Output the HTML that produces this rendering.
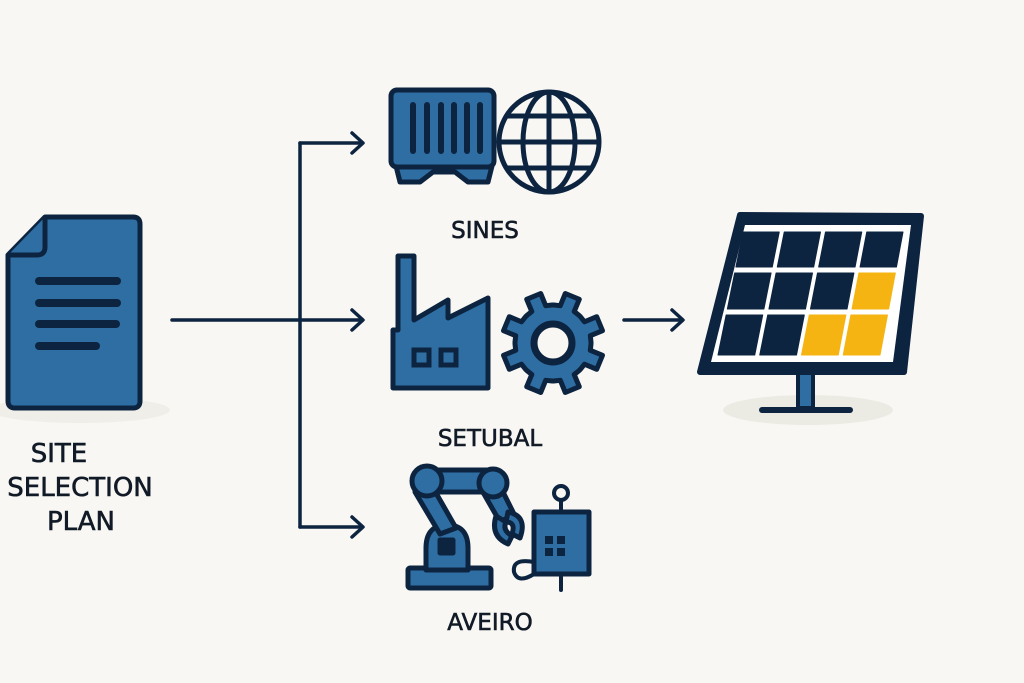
<!DOCTYPE html>
<html><head><meta charset="utf-8"><style>
html,body{margin:0;padding:0;background:#f8f7f3;}
svg{display:block}
text{font-family:"DejaVu Sans","Liberation Sans",sans-serif;fill:#111a26;stroke:#111a26;stroke-width:0.6px;}
</style></head><body>
<svg id="s" width="1024" height="683" viewBox="0 0 1024 683" xmlns="http://www.w3.org/2000/svg">
<rect width="1024" height="683" fill="#f8f7f3"/>
<ellipse cx="80" cy="410" rx="90" ry="13" fill="#efeee8"/>
<ellipse cx="808" cy="410" rx="85" ry="15" fill="#ecebe3"/>
<!-- document -->
<path d="M45,217 L133,217 Q140,217 140,224 L140,401 Q140,408 133,408 L15,408 Q8,408 8,401 L8,255 Z" fill="#2f6ea3" stroke="#0d2440" stroke-width="5" stroke-linejoin="round"/>
<path d="M45,217 L45,247 Q45,255 37,255 L8,255" fill="#2f6ea3" stroke="#0d2440" stroke-width="5" stroke-linejoin="round"/>
<g stroke="#0d2440" stroke-width="8" stroke-linecap="round">
<line x1="39" y1="281" x2="117" y2="281"/><line x1="39" y1="303" x2="117" y2="303"/>
<line x1="39" y1="324" x2="116" y2="324"/><line x1="39" y1="346" x2="96" y2="346"/>
</g>
<text x="59" y="462" font-size="26" text-anchor="middle">SITE</text>
<text x="80" y="496" font-size="26" text-anchor="middle">SELECTION</text>
<text x="81" y="530" font-size="26" text-anchor="middle">PLAN</text>
<!-- connectors -->
<g stroke="#0d2440" stroke-width="3.5" fill="none" stroke-linecap="round" stroke-linejoin="round">
<line x1="172" y1="320" x2="362" y2="320"/>
<line x1="300" y1="143" x2="300" y2="527"/>
<line x1="300" y1="143" x2="362" y2="143"/>
<line x1="300" y1="527" x2="362" y2="527"/>
<polyline points="352,133 363,143 352,153"/>
<polyline points="352,310 363,320 352,330"/>
<polyline points="352,517 363,527 352,537"/>
<line x1="624" y1="320" x2="682" y2="320"/>
<polyline points="672,310 683,320 672,330"/>
</g>
<!-- Sines: container -->
<path d="M396,166 L400,182 L420,182 L433,172 L455,172 L468,182 L488,182 L492,166 Z" fill="#2f6ea3" stroke="#0d2440" stroke-width="5" stroke-linejoin="round"/>
<rect x="391" y="90" width="103" height="77" rx="6" fill="#2f6ea3" stroke="#0d2440" stroke-width="5"/>
<g stroke="#0d2440" stroke-width="6" stroke-linecap="round">
<line x1="413" y1="105" x2="413" y2="151"/><line x1="427" y1="105" x2="427" y2="151"/>
<line x1="441" y1="105" x2="441" y2="151"/><line x1="454" y1="105" x2="454" y2="151"/>
<line x1="467" y1="105" x2="467" y2="151"/><line x1="480" y1="105" x2="480" y2="151"/>
</g>
<g stroke="#0d2440" stroke-width="5" fill="none">
<circle cx="549" cy="142" r="50"/>
<ellipse cx="549" cy="142" rx="26" ry="50"/>
<line x1="549" y1="92" x2="549" y2="192"/>
<line x1="499" y1="142" x2="599" y2="142"/>
<line x1="506" y1="116" x2="592" y2="116"/>
<line x1="506" y1="168" x2="592" y2="168"/>
</g>
<text x="485" y="238" font-size="23" text-anchor="middle">SINES</text>
<!-- factory -->
<path d="M393,388 L393,330 L398,330 L398,256 L414,256 L414,320 L448,300 L448,318 L488,298 L488,388 Z" fill="#2f6ea3" stroke="#0d2440" stroke-width="5" stroke-linejoin="round"/>
<rect x="414" y="350" width="15" height="15" fill="#2f6ea3" stroke="#0d2440" stroke-width="5"/>
<rect x="441" y="350" width="15" height="15" fill="#2f6ea3" stroke="#0d2440" stroke-width="5"/>
<g id="gear" transform="translate(553,343)"></g>
<text x="490" y="446" font-size="23" text-anchor="middle">SETUBAL</text>
<!-- robot -->
<g stroke="#0d2440" stroke-width="5" stroke-linejoin="round" fill="#2f6ea3">
<rect x="408" y="568" width="83" height="20" rx="2"/>
<path d="M426,570 L426,548 Q426,525 447,525 Q468,525 468,548 L468,570 Z"/>
<path d="M415,492 L432,486 L456,528 L440,534 Z"/>
<rect x="425" y="470" width="67" height="22"/>
<path d="M484,494 L500,486 L514,514 L500,522 Z"/>
<circle cx="427" cy="481" r="15"/>
<circle cx="493" cy="483" r="14"/>
<path d="M496,516 Q490,536 508,544 L512,536 Q502,530 506,522 Z"/>
<path d="M508,512 Q528,516 520,538 L512,534 Q516,522 506,522 Z"/>
<rect x="440" y="540" width="13" height="13" fill="#0d2440"/>
<rect x="534" y="512" width="55" height="62"/>
</g>
<g stroke="#0d2440" stroke-width="4" fill="none" stroke-linecap="round">
<circle cx="561" cy="493" r="7"/>
<line x1="561" y1="500" x2="561" y2="512"/>
<line x1="561" y1="574" x2="561" y2="590"/>
<path d="M534,562 Q512,558 514,572 Q518,584 534,574"/>
</g>
<g fill="#0d2440">
<rect x="545" y="536" width="8" height="8"/><rect x="557" y="536" width="8" height="8"/>
<rect x="545" y="548" width="8" height="8"/><rect x="557" y="548" width="8" height="8"/>
</g>
<text x="490" y="630" font-size="23" text-anchor="middle">AVEIRO</text>
<!-- solar panel -->
<rect x="798" y="368" width="15" height="40" fill="#2f6ea3" stroke="#0d2440" stroke-width="4"/>
<line x1="762" y1="410" x2="850" y2="410" stroke="#0d2440" stroke-width="6" stroke-linecap="round"/>
<polygon points="740,215 921,216 904,372 700,372" fill="#0d2440" stroke="#0d2440" stroke-width="6" stroke-linejoin="round"/>
<polygon points="745,225 911,225 893,362 711,362" fill="#ffffff"/>
<g id="cells"></g>
</svg>
<script>
(function(){
var NS="http://www.w3.org/2000/svg";
var g=document.getElementById("gear");
var pts=[];var n=8;
for(var i=0;i<n;i++){
 var a0=i*2*Math.PI/n+Math.PI/8;
 var hw=0.2, tw=0.15;
 var seq=[[a0-Math.PI/n+0.02,38],[a0-hw,38],[a0-tw,51],[a0+tw,51],[a0+hw,38],[a0+Math.PI/n-0.02,38]];
 seq.forEach(function(p){pts.push((p[1]*Math.cos(p[0])).toFixed(1)+","+(p[1]*Math.sin(p[0])).toFixed(1));});
}
var poly=document.createElementNS(NS,"polygon");
poly.setAttribute("points",pts.join(" "));
poly.setAttribute("fill","#2f6ea3");poly.setAttribute("stroke","#0d2440");poly.setAttribute("stroke-width","5");poly.setAttribute("stroke-linejoin","round");
g.appendChild(poly);
var c=document.createElementNS(NS,"circle");c.setAttribute("r","19");c.setAttribute("fill","#f8f7f3");c.setAttribute("stroke","#0d2440");c.setAttribute("stroke-width","7");g.appendChild(c);
var cg=document.getElementById("cells");
function L(y){return 743-25*(y-232)/123;}
function R(y){return 903-23*(y-232)/123;}
function xs(y,c,e){var l=L(y),w=R(y)-l,cw=(w-15)/4;var x=l+c*(cw+5);return e?x+cw:x;}
var rows=[[232,267],[273,309],[315,355]];
var yel={"1,3":1,"2,2":1,"2,3":1};
for(var r=0;r<3;r++)for(var k=0;k<4;k++){
 var y0=rows[r][0],y1=rows[r][1];
 var p=[xs(y0,k,0)+","+y0,xs(y0,k,1)+","+y0,xs(y1,k,1)+","+y1,xs(y1,k,0)+","+y1];
 var e=document.createElementNS(NS,"polygon");
 e.setAttribute("points",p.join(" "));
 var col=yel[r+","+k]?"#f6b412":"#0d2440";
 e.setAttribute("fill",col);e.setAttribute("stroke",col);
 e.setAttribute("stroke-width","1");e.setAttribute("stroke-linejoin","round");
 cg.appendChild(e);
}
})();
</script>
</body></html>
